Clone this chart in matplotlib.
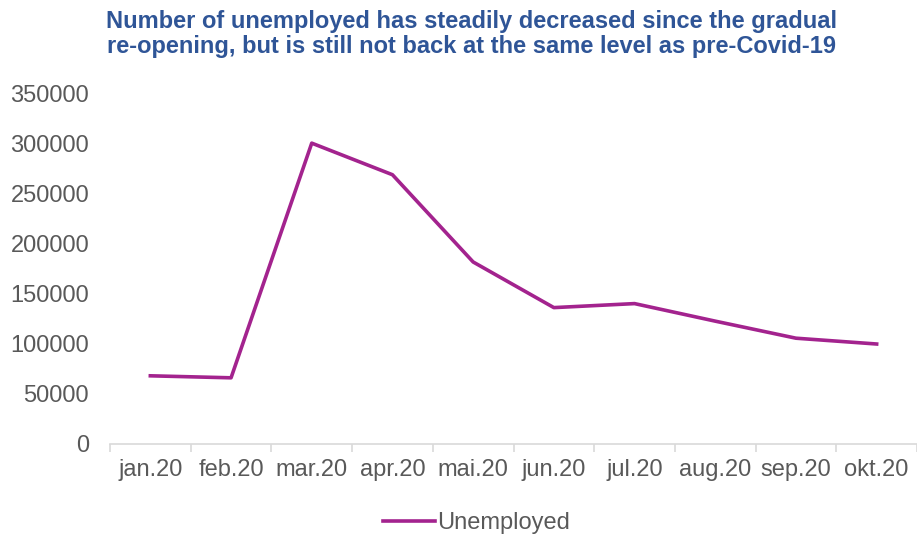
import matplotlib.pyplot as plt
import numpy as np

plt.rcParams['font.family'] = ['Liberation Sans', 'DejaVu Sans']

months = ['jan.20', 'feb.20', 'mar.20', 'apr.20', 'mai.20',
          'jun.20', 'jul.20', 'aug.20', 'sep.20', 'okt.20']
unemployed = [68000, 66000, 300000, 268500, 181500,
              136000, 140000, 122500, 105500, 99700]

fig = plt.figure(figsize=(9.17, 5.37), dpi=100)
ax = fig.add_axes([110 / 917, 1 - 444 / 537, 807 / 917, 351 / 537])

x = np.arange(len(months))
ax.plot(x, unemployed, color='#A3238E', lw=2.6, label='Unemployed')

ax.set_xlim(-0.5, len(months) - 0.5)
ax.set_ylim(0, 350000)
ax.set_yticks(np.arange(0, 350001, 50000))
ax.set_yticklabels([str(v) for v in range(0, 350001, 50000)])
ax.set_xticks(x)
ax.set_xticklabels(months)
ax.set_xticks(np.arange(-0.5, len(months), 1), minor=True)

for s in ['top', 'right', 'left']:
    ax.spines[s].set_visible(False)
ax.spines['bottom'].set_color('#d9d9d9')
ax.spines['bottom'].set_linewidth(1.2)

ax.tick_params(axis='y', length=0, labelsize=17, colors='#595959', pad=15)
ax.tick_params(axis='x', which='major', length=0, labelsize=17,
               colors='#595959', pad=11)
ax.tick_params(axis='x', which='minor', length=6, width=1.2,
               color='#d9d9d9', direction='out')

fig.text(0.514, 0.937,
         'Number of unemployed has steadily decreased since the gradual\n'
         're-opening, but is still not back at the same level as pre-Covid-19',
         ha='center', va='center', fontsize=17, fontweight='bold',
         color='#2F5597', linespacing=1.1)

leg = fig.legend(loc='center', bbox_to_anchor=(0.52, 0.026), frameon=False,
                 fontsize=17, handlelength=2.2, handletextpad=0.1)
for t in leg.get_texts():
    t.set_color('#595959')

fig.savefig('out.png', dpi=100)
